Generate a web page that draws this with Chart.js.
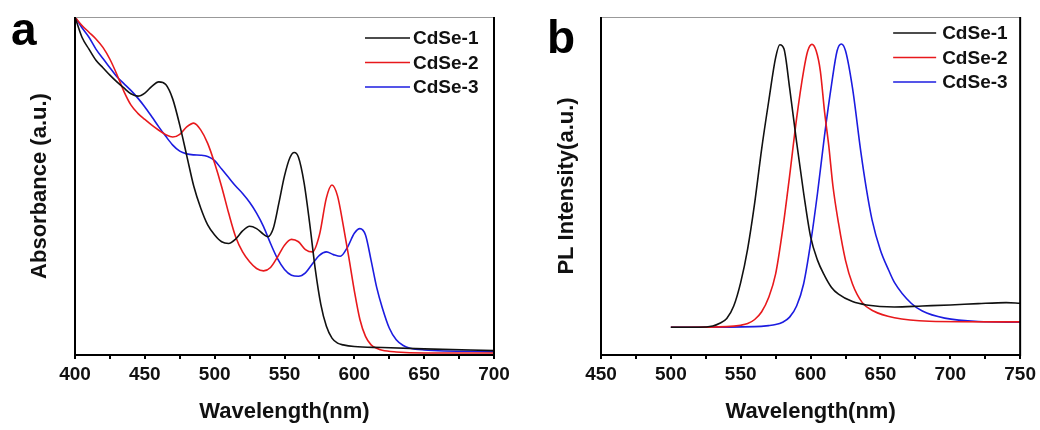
<!DOCTYPE html>
<html>
<head>
<meta charset="utf-8">
<script src="https://cdn.jsdelivr.net/npm/chart.js@4.4.1/dist/chart.umd.min.js"></script>
<style>
  body { margin: 0; background: #fff; }
  #wrap { position: relative; width: 1040px; height: 430px; }
  .painel { position: absolute; top: 0; width: 520px; height: 430px; }
</style>
</head>
<body>
<div id="wrap">
  <div class="painel" style="left:0"><canvas id="chartAbs" width="520" height="430"></canvas></div>
  <div class="painel" style="left:520px"><canvas id="chartPL" width="520" height="430"></canvas></div>
</div>
<script>
// nomes das amostras
const amostras = ['CdSe-1', 'CdSe-2', 'CdSe-3'];
const cores = ['#111111', '#e8191c', '#1c1ce0'];

// (a) absorbancia - comprimento de onda (nm) e valores
const absWl1 = [400,405,410,415,420,425,430,435,440,445,450,455,460,465,470,475,480,485,490,495,500,505,510,515,520,525,530,535,538,542,546,550,554,557,560,564,568,572,576,580,584,588,592,600,620,650,700];
const absVal1 = [1.0,0.94,0.905,0.872,0.85,0.828,0.808,0.79,0.773,0.766,0.775,0.795,0.808,0.8,0.757,0.68,0.59,0.5,0.435,0.385,0.355,0.335,0.33,0.343,0.367,0.381,0.374,0.357,0.35,0.375,0.45,0.53,0.585,0.599,0.585,0.51,0.39,0.255,0.15,0.085,0.05,0.035,0.03,0.025,0.022,0.018,0.013];

const absWl2 = [400,405,410,415,420,425,430,435,440,445,450,455,460,465,470,475,480,485,490,495,500,505,510,515,520,525,530,535,540,545,550,555,560,565,570,575,580,584,588,592,596,600,604,608,612,616,620,630,650,700];
const absVal2 = [1.0,0.975,0.955,0.935,0.91,0.875,0.83,0.78,0.74,0.715,0.697,0.68,0.665,0.652,0.645,0.653,0.675,0.686,0.666,0.626,0.567,0.498,0.42,0.35,0.305,0.276,0.256,0.249,0.259,0.29,0.325,0.342,0.335,0.312,0.305,0.355,0.465,0.503,0.47,0.385,0.29,0.19,0.105,0.055,0.03,0.02,0.014,0.009,0.006,0.006];

const absWl3 = [400,405,410,415,420,425,430,435,440,445,450,455,460,465,470,475,480,485,490,495,500,505,510,515,520,525,530,535,540,545,550,555,560,565,570,575,580,585,590,595,600,604,608,612,616,620,625,630,635,640,650,700];
const absVal3 = [1.0,0.968,0.94,0.905,0.877,0.85,0.823,0.803,0.783,0.76,0.734,0.705,0.675,0.647,0.621,0.603,0.595,0.592,0.591,0.587,0.575,0.55,0.525,0.5,0.478,0.452,0.42,0.38,0.33,0.285,0.253,0.236,0.233,0.243,0.27,0.295,0.305,0.297,0.292,0.318,0.36,0.374,0.355,0.28,0.2,0.14,0.08,0.045,0.028,0.02,0.015,0.01];

// (b) fotoluminescencia
const plWl1 = [500,520,530,535,540,545,550,555,560,565,570,575,578,581,585,590,595,600,605,610,615,620,630,640,660,680,700,720,740,750];
const plVal1 = [0.082,0.082,0.086,0.094,0.108,0.145,0.215,0.315,0.45,0.61,0.75,0.88,0.918,0.905,0.79,0.63,0.48,0.35,0.28,0.235,0.2,0.18,0.158,0.148,0.142,0.145,0.148,0.152,0.155,0.153];

const plWl2 = [500,540,550,555,560,565,570,575,580,585,590,595,598,601,604,607,610,613,616,620,625,630,637,645,660,685,750];
const plVal2 = [0.082,0.084,0.088,0.093,0.105,0.128,0.17,0.24,0.37,0.53,0.7,0.84,0.9,0.919,0.9,0.84,0.72,0.62,0.5,0.39,0.28,0.21,0.155,0.13,0.11,0.1,0.098];

const plWl3 = [500,560,570,575,580,585,590,595,600,605,610,615,619,622,625,630,636,640,644,650,656,660,672,680,696,720,750];
const plVal3 = [0.082,0.084,0.087,0.09,0.097,0.112,0.145,0.21,0.33,0.48,0.65,0.8,0.9,0.92,0.9,0.79,0.6,0.49,0.4,0.31,0.25,0.215,0.153,0.13,0.109,0.099,0.097];

const fonte = '"Liberation Sans", Arial, sans-serif';

// moldura do grafico, legenda dentro da area e letra do painel
const moldura = {
    id: 'moldura',
    afterDatasetsDraw(chart, args, opts) {
        const ctx = chart.ctx;
        const a = chart.chartArea;
        ctx.save();
        ctx.strokeStyle = '#999';
        ctx.lineWidth = 1;
        ctx.beginPath();
        ctx.moveTo(a.left, a.top + 0.5);
        ctx.lineTo(a.right, a.top + 0.5);
        ctx.stroke();
        ctx.strokeStyle = '#000';
        ctx.lineWidth = 2;
        ctx.beginPath();
        ctx.moveTo(a.left, a.top);
        ctx.lineTo(a.left, a.bottom);
        ctx.lineTo(a.right, a.bottom);
        ctx.lineTo(a.right, a.top);
        ctx.stroke();

        // legenda
        ctx.font = 'bold 19px ' + fonte;
        ctx.textBaseline = 'middle';
        chart.data.datasets.forEach(function (ds, i) {
            const y = a.top + opts.legTopo + i * 24.5;
            ctx.strokeStyle = ds.borderColor;
            ctx.lineWidth = 1.6;
            ctx.beginPath();
            ctx.moveTo(a.right - opts.linhaIni, y);
            ctx.lineTo(a.right - 84, y);
            ctx.stroke();
            ctx.fillStyle = '#111';
            ctx.fillText(ds.label, a.right - opts.textoIni, y + 1);
        });

        ctx.textBaseline = 'alphabetic';
        ctx.font = 'bold 46px ' + fonte;
        ctx.fillStyle = '#000';
        ctx.fillText(opts.letra, opts.letraX, opts.letraY);
        ctx.restore();
    }
};

function montarDados(listaWl, listaVal) {
    let datasets = [];
    for (let i = 0; i < amostras.length; i++) {
        let pontos = [];
        for (let j = 0; j < listaWl[i].length; j++) {
            pontos.push({ x: listaWl[i][j], y: listaVal[i][j] });
        }
        datasets.push({
            label: amostras[i],
            data: pontos,
            borderColor: cores[i],
            borderWidth: 1.6,
            pointRadius: 0,
            fill: false,
            cubicInterpolationMode: 'monotone'
        });
    }
    return { datasets: datasets };
}

function gerarGrafico(idCanvas, dados, xMin, xMax, tituloY, larguraY, padDir, padTituloY, legenda) {
    return new Chart(document.getElementById(idCanvas), {
        type: 'line',
        data: dados,
        plugins: [moldura],
        options: {
            responsive: false,
            animation: false,
            layout: { padding: { top: 17, right: padDir, left: 0, bottom: 0 } },
            plugins: {
                legend: { display: false },
                tooltip: { enabled: false },
                moldura: legenda
            },
            scales: {
                x: {
                    type: 'linear',
                    min: xMin,
                    max: xMax,
                    afterFit: function (scale) { scale.height = 75; },
                    border: { display: false },
                    grid: { drawOnChartArea: false, drawTicks: true, tickLength: 4, lineWidth: 2, color: '#000' },
                    ticks: {
                        stepSize: 25,
                        autoSkip: false,
                        maxRotation: 0,
                        padding: 4,
                        color: '#111',
                        font: { family: fonte, size: 19, weight: 'bold' },
                        callback: function (v) { return v % 50 === 0 ? v : ''; }
                    },
                    title: {
                        display: true,
                        text: 'Wavelength(nm)',
                        color: '#111',
                        font: { family: fonte, size: 22, weight: 'bold' },
                        padding: { top: 0, bottom: 5 }
                    }
                },
                y: {
                    min: 0,
                    max: 1,
                    afterFit: function (scale) { scale.width = larguraY; },
                    border: { display: false },
                    grid: { display: false },
                    ticks: { display: false },
                    title: {
                        display: true,
                        text: tituloY,
                        color: '#111',
                        font: { family: fonte, size: 22, weight: 'bold' },
                        padding: { top: padTituloY, bottom: 0 }
                    }
                }
            }
        }
    });
}

let chartAbs = gerarGrafico('chartAbs',
    montarDados([absWl1, absWl2, absWl3], [absVal1, absVal2, absVal3]),
    400, 700, 'Absorbance (a.u.)', 75, 26, 27,
    { legTopo: 21, linhaIni: 129, textoIni: 81, letra: 'a', letraX: 11, letraY: 45 });

let chartPL = gerarGrafico('chartPL',
    montarDados([plWl1, plWl2, plWl3], [plVal1, plVal2, plVal3]),
    450, 750, 'PL Intensity(a.u.)', 81, 18, 34,
    { legTopo: 16, linhaIni: 127, textoIni: 78, letra: 'b', letraX: 27, letraY: 53 });
</script>
</body>
</html>
